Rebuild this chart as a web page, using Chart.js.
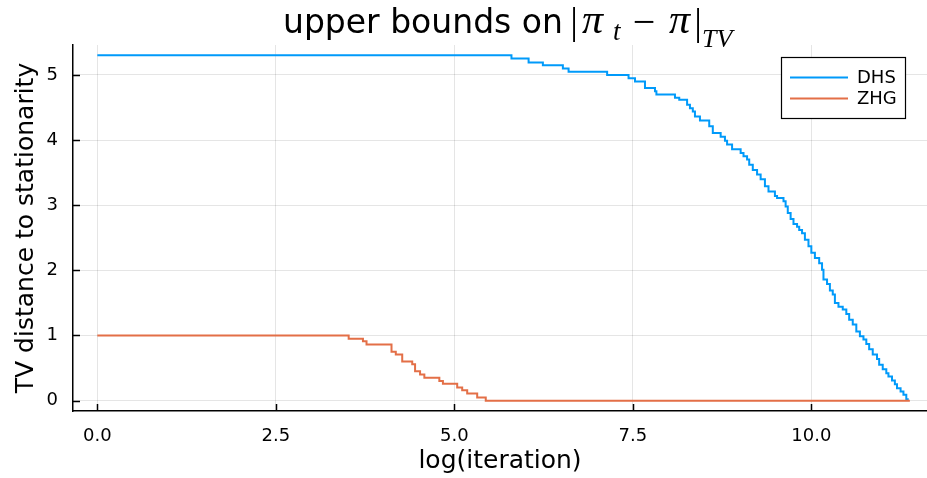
<!DOCTYPE html>
<html>
<head>
<meta charset="utf-8">
<script src="https://cdn.jsdelivr.net/npm/chart.js@4.4.1/dist/chart.umd.min.js"></script>
<style>
  html, body { margin: 0; padding: 0; background: #fff; overflow: hidden; }
  canvas { display: block; }
</style>
</head>
<body>
<canvas id="chart" width="927" height="478"></canvas>
<script>
// Each bound is a step function: the value holds from one log(iteration) to the next.
const dhsLogIter = [0, 5.80, 6.04, 6.24, 6.52, 6.60, 7.14, 7.44, 7.53, 7.67,
  7.81, 7.83, 8.09, 8.15, 8.26, 8.30, 8.34, 8.37, 8.44, 8.57,
  8.62, 8.73, 8.79, 8.82, 8.89, 9.01, 9.05, 9.10, 9.13, 9.18,
  9.24, 9.29, 9.35, 9.40, 9.49, 9.52, 9.61, 9.64, 9.67, 9.71,
  9.75, 9.80, 9.83, 9.87, 9.91, 9.96, 10.00, 10.05, 10.11, 10.15,
  10.17, 10.22, 10.26, 10.30, 10.33, 10.38, 10.44, 10.49, 10.53, 10.58,
  10.63, 10.68, 10.73, 10.77, 10.81, 10.86, 10.92, 10.95, 11.00, 11.05,
  11.08, 11.13, 11.17, 11.20, 11.25, 11.29, 11.33, 11.35];
const dhsBound = [5.30, 5.25, 5.19, 5.15, 5.10, 5.05, 5.00, 4.95, 4.90, 4.80,
  4.75, 4.70, 4.65, 4.62, 4.54, 4.49, 4.44, 4.36, 4.30, 4.21,
  4.11, 4.05, 3.99, 3.93, 3.86, 3.80, 3.75, 3.70, 3.62, 3.54,
  3.47, 3.40, 3.29, 3.21, 3.14, 3.11, 3.06, 2.98, 2.88, 2.79,
  2.71, 2.67, 2.62, 2.57, 2.47, 2.37, 2.27, 2.19, 2.11, 2.01,
  1.86, 1.79, 1.69, 1.63, 1.50, 1.44, 1.40, 1.33, 1.24, 1.17,
  1.06, 0.99, 0.94, 0.87, 0.79, 0.71, 0.64, 0.55, 0.48, 0.42,
  0.37, 0.31, 0.25, 0.19, 0.14, 0.09, 0.02, 0];

const zhgLogIter = [0, 3.52, 3.72, 3.77, 4.12, 4.18, 4.27, 4.41, 4.45, 4.52,
  4.58, 4.79, 4.84, 5.04, 5.11, 5.18, 5.32, 5.44, 11.38];
const zhgBound = [1.00, 0.95, 0.91, 0.86, 0.75, 0.71, 0.60, 0.56, 0.45, 0.40,
  0.35, 0.30, 0.26, 0.20, 0.16, 0.11, 0.05, 0, 0];

const seriesNames = ['DHS', 'ZHG'];
const xTickValues = [0, 2.5, 5, 7.5, 10];
const xTickLabels = ['0.0', '2.5', '5.0', '7.5', '10.0'];
const yTickValues = [0, 1, 2, 3, 4, 5];

const SANS = '"DejaVu Sans", sans-serif';
const SERIF = '"Liberation Serif", "DejaVu Serif", serif';
const COLORS = ['#009AFA', '#E36F47'];

function toPoints(xs, ys) {
  return xs.map((x, i) => ({ x: x, y: ys[i] }));
}

// Background, inward tick marks, axis titles, math title and the legend box.
const decorations = {
  id: 'decorations',
  beforeDraw(chart) {
    const ctx = chart.ctx;
    ctx.save();
    ctx.fillStyle = '#fff';
    ctx.fillRect(0, 0, chart.width, chart.height);
    ctx.restore();
  },
  afterDraw(chart) {
    const { ctx, chartArea: a, scales } = chart;
    const xs = scales.x, ys = scales.y;
    ctx.save();

    // tick marks pointing into the plot
    ctx.strokeStyle = '#000';
    ctx.lineWidth = 1.5;
    ctx.beginPath();
    xTickValues.forEach(v => {
      const px = Math.round(xs.getPixelForValue(v)) + 0.5;
      ctx.moveTo(px, a.bottom);
      ctx.lineTo(px, a.bottom - 7);
    });
    yTickValues.forEach(v => {
      const py = Math.round(ys.getPixelForValue(v)) + 0.5;
      ctx.moveTo(a.left, py);
      ctx.lineTo(a.left + 7, py);
    });
    ctx.stroke();

    // axis titles
    ctx.fillStyle = '#000';
    ctx.font = '25px ' + SANS;
    ctx.textAlign = 'center';
    ctx.textBaseline = 'alphabetic';
    ctx.fillText('log(iteration)', (a.left + a.right) / 2, 468);
    ctx.save();
    ctx.translate(33, (a.top + a.bottom) / 2);
    ctx.rotate(-Math.PI / 2);
    ctx.fillText('TV distance to stationarity', 0, 0);
    ctx.restore();

    // title: upper bounds on |π_t − π|_TV
    ctx.textAlign = 'left';
    ctx.font = '33px ' + SANS;
    ctx.fillText('upper bounds on', 283, 33);
    ctx.textAlign = 'center';
    ctx.font = '38px ' + SERIF;
    ctx.fillText('|', 574, 34);
    ctx.textAlign = 'left';
    ctx.font = 'italic 42px ' + SERIF;
    ctx.fillText('π', 582, 33);
    ctx.font = 'italic 27px ' + SERIF;
    ctx.fillText('t', 613, 40);
    ctx.textAlign = 'center';
    ctx.font = '40px ' + SERIF;
    ctx.fillText('\u2212', 644, 35);
    ctx.textAlign = 'left';
    ctx.font = 'italic 42px ' + SERIF;
    ctx.fillText('π', 669, 33);
    ctx.textAlign = 'center';
    ctx.font = '38px ' + SERIF;
    ctx.fillText('|', 698, 35);
    ctx.textAlign = 'left';
    ctx.font = 'italic 26px ' + SERIF;
    ctx.fillText('TV', 702, 47);

    // legend
    const lx = 781.5, ly = 57.5, lw = 124, lh = 61;
    ctx.fillStyle = '#fff';
    ctx.fillRect(lx, ly, lw, lh);
    ctx.strokeStyle = '#000';
    ctx.lineWidth = 1.2;
    ctx.strokeRect(lx, ly, lw, lh);
    ctx.font = '18px ' + SANS;
    ctx.textAlign = 'left';
    ctx.textBaseline = 'middle';
    chart.data.datasets.forEach((ds, i) => {
      const cy = 77.5 + i * 21;
      ctx.strokeStyle = ds.borderColor;
      ctx.lineWidth = 2;
      ctx.beginPath();
      ctx.moveTo(790, cy);
      ctx.lineTo(848, cy);
      ctx.stroke();
      ctx.fillStyle = '#000';
      ctx.fillText(ds.label, 857, cy + 1);
    });

    ctx.restore();
  }
};

new Chart(document.getElementById('chart'), {
  type: 'line',
  data: {
    datasets: [
      {
        label: seriesNames[0],
        data: toPoints(dhsLogIter, dhsBound),
        borderColor: COLORS[0],
        borderWidth: 2,
        stepped: 'before',
        pointRadius: 0,
        fill: false,
        order: 1
      },
      {
        label: seriesNames[1],
        data: toPoints(zhgLogIter, zhgBound),
        borderColor: COLORS[1],
        borderWidth: 2,
        stepped: 'before',
        pointRadius: 0,
        fill: false,
        order: 0
      }
    ]
  },
  options: {
    responsive: false,
    animation: false,
    events: [],
    layout: { padding: { top: 45, right: 0, bottom: 0, left: 0 } },
    plugins: {
      legend: { display: false },
      tooltip: { enabled: false },
      title: { display: false }
    },
    scales: {
      x: {
        type: 'linear',
        min: -0.341,
        max: 11.62,
        afterBuildTicks: s => { s.ticks = xTickValues.map(v => ({ value: v })); },
        afterFit: s => { s.height = 67; },
        grid: { color: 'rgba(0,0,0,0.1)', lineWidth: 1, drawTicks: false },
        border: { display: true, color: '#000', width: 1.5 },
        ticks: {
          padding: 15,
          color: '#000',
          font: { family: SANS, size: 18 },
          maxRotation: 0,
          callback: v => xTickLabels[xTickValues.indexOf(v)]
        }
      },
      y: {
        type: 'linear',
        min: -0.159,
        max: 5.459,
        afterBuildTicks: s => { s.ticks = yTickValues.map(v => ({ value: v })); },
        afterFit: s => { s.width = 73; },
        grid: { color: 'rgba(0,0,0,0.1)', lineWidth: 1, drawTicks: false },
        border: { display: true, color: '#000', width: 1.5 },
        ticks: {
          padding: 15,
          color: '#000',
          font: { family: SANS, size: 18 },
          callback: v => String(v)
        }
      }
    }
  },
  plugins: [decorations]
});
</script>
</body>
</html>
